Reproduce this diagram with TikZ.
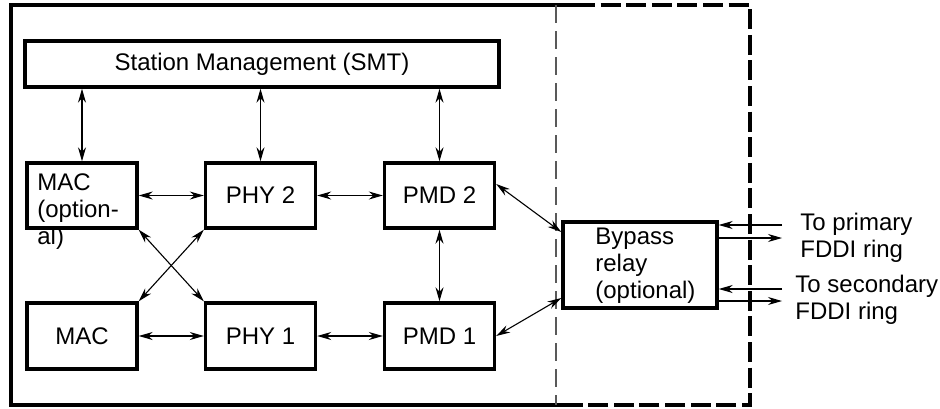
\documentclass[tikz,border=0pt]{standalone}
\usepackage{fontspec}
\setmainfont{Liberation Sans}
\usetikzlibrary{arrows.meta}
\begin{document}
\begin{tikzpicture}[x=0.5pt,y=-0.5pt,
  txt/.style={font=\fontsize{12}{13.5}\selectfont},
  blk/.style={draw,line width=1.7pt,inner sep=0pt,txt,minimum width=55pt,minimum height=32.5pt},
  lnk/.style={line width=0.55pt,{Stealth[length=7pt,width=4pt]}-{Stealth[length=7pt,width=4pt]}},
  one/.style={line width=0.55pt,-{Stealth[length=7pt,width=4pt]}},
  lbl/.style={txt,inner sep=0pt,align=left,anchor=north west}
]
\useasboundingbox (0,0) rectangle (940,408);
% frame
\draw[line width=1.7pt] (575,5) -- (11,5) -- (11,405) -- (577,405);
\draw[line width=2pt,dash pattern=on 10pt off 2.8pt] (575,5) -- (750,5) -- (750,405) -- (577,405);
\draw[black!65,line width=0.7pt,dash pattern=on 9pt off 4pt] (556,5) -- (556,405);
% blocks
\node[blk,minimum width=237pt,minimum height=23pt] (smt) at (262,64) {Station Management (SMT)};
\node[blk] (mac2) at (82,195.5) {};
\node[lbl] (mac2t) at (37,173) {MAC\\(option-\\al)};
\node[blk] (phy2) at (260.5,195.5) {PHY 2};
\node[blk] (pmd2) at (439.5,195.5) {PMD 2};
\node[blk,minimum height=33pt] (mac1) at (82,336) {MAC};
\node[blk,minimum height=33pt] (phy1) at (260.5,336) {PHY 1};
\node[blk,minimum height=33pt] (pmd1) at (439.5,336) {PMD 1};
\node[blk,minimum width=77pt,minimum height=43pt] (byp) at (640,265) {};
\node[lbl] (bypt) at (595,228) {Bypass\\relay\\(optional)};
% links
\draw[lnk] (smt.south -| mac2.north) -- (mac2.north);
\draw[lnk] (smt.south -| phy2.north) -- (phy2.north);
\draw[lnk] (smt.south -| pmd2.north) -- (pmd2.north);
\draw[lnk] (mac2.east) -- (phy2.west);
\draw[lnk] (phy2.east) -- (pmd2.west);
\draw[lnk] (mac1.east) -- (phy1.west);
\draw[lnk] (phy1.east) -- (pmd1.west);
\draw[lnk] (mac2.south east) -- (phy1.north west);
\draw[lnk] (phy2.south west) -- (mac1.north east);
\draw[lnk] (pmd2.south) -- (pmd1.north);
\draw[lnk] ([yshift=5.75pt]pmd2.east) -- ([yshift=16.5pt]byp.west);
\draw[lnk] (pmd1.east) -- ([yshift=-16.5pt]byp.west);
% ring connections
\coordinate (pin) at (782,225);
\coordinate (pout) at (782,238);
\coordinate (sin) at (782,289);
\coordinate (sout) at (782,301);
\draw[one] (pin) -- (byp.east |- pin);
\draw[one] (byp.east |- pout) -- (pout);
\draw[one] (sin) -- (byp.east |- sin);
\draw[one] (byp.east |- sout) -- (sout);
\node[lbl] (prim) at (800,213) {To primary\\FDDI ring};
\node[lbl] (sec) at (795,275) {To secondary\\FDDI ring};
\end{tikzpicture}
\end{document}
